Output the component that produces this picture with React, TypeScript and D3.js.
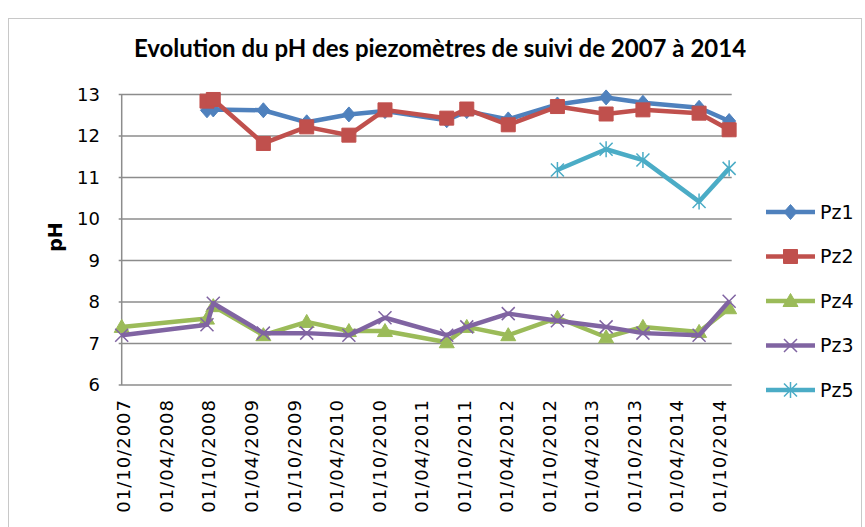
import React from "react";
import * as d3 from "d3";

// sampling dates (dd/mm/yyyy as in the sheet)
const dates = [
  "01/10/2007", "01/10/2008", "28/10/2008", "31/05/2009", "03/12/2009",
  "02/06/2010", "04/11/2010", "27/07/2011", "21/10/2011", "16/04/2012",
  "13/11/2012", "10/06/2013", "15/11/2013", "14/07/2014", "20/11/2014",
];
const axisStart = "01/10/2007";
const axisEnd = "01/12/2014";
const tickStepMonths = 6;

const pz1 = [null, 12.62, 12.64, 12.62, 12.33, 12.52, 12.6, 12.38, 12.6, 12.4, 12.76, 12.93, 12.8, 12.68, 12.36];
const pz2 = [null, 12.84, 12.88, 11.82, 12.22, 12.02, 12.63, 12.43, 12.65, 12.27, 12.71, 12.53, 12.63, 12.55, 12.15];
const pz4 = [7.4, 7.6, 7.9, 7.2, 7.52, 7.3, 7.3, 7.03, 7.4, 7.2, 7.62, 7.15, 7.4, 7.28, 7.85];
const pz3 = [7.2, 7.45, 7.97, 7.25, 7.25, 7.2, 7.62, 7.2, 7.4, 7.72, 7.55, 7.4, 7.25, 7.2, 8.02];
const pz5 = [null, null, null, null, null, null, null, null, null, null, 11.18, 11.68, 11.42, 10.42, 11.22];

const yTicks = [6, 7, 8, 9, 10, 11, 12, 13];

const series = [
  { name: "Pz1", values: pz1, color: "#4F81BD", marker: "diamond" },
  { name: "Pz2", values: pz2, color: "#C0504D", marker: "square" },
  { name: "Pz4", values: pz4, color: "#9BBB59", marker: "triangle" },
  { name: "Pz3", values: pz3, color: "#8064A2", marker: "x" },
  { name: "Pz5", values: pz5, color: "#4BACC6", marker: "star" },
];

const parse = d3.timeParse("%d/%m/%Y");
const fmt = d3.timeFormat("%d/%m/%Y");

const W = 865;
const H = 527;
const left = 121.7;
const right = 731.7;
const top = 94.5;
const bottom = 385;

function markerPath(kind: string) {
  switch (kind) {
    case "diamond":
      return "M0,-7.5L6.5,0L0,7.5L-6.5,0Z";
    case "square":
      return "M-7,-7H7V7H-7Z";
    case "triangle":
      return "M0,-7.5L7.5,5.5L-7.5,5.5Z";
    case "x":
      return "M-6.5,-6.5L6.5,6.5M-6.5,6.5L6.5,-6.5";
    default:
      return "M-6.5,-6.5L6.5,6.5M-6.5,6.5L6.5,-6.5M0,-8L0,8";
  }
}

function Marker({ kind, color, x, y }: { kind: string; color: string; x: number; y: number }) {
  const open = kind === "x" || kind === "star";
  return (
    <path
      d={markerPath(kind)}
      transform={`translate(${x},${y})`}
      fill={open ? "none" : color}
      stroke={color}
      strokeWidth={open ? 1.5 : 1}
    />
  );
}

export default function App() {
  const start = parse(axisStart)!;
  const end = parse(axisEnd)!;
  const x = d3.scaleTime().domain([start, end]).range([left, right]);
  const y = d3.scaleLinear().domain([6, 13]).range([bottom, top]);
  // Excel date axis: major unit of 6 months counted from the axis minimum
  const xTicks: Date[] = [];
  for (let t = start; t <= end; t = d3.timeMonth.offset(t, tickStepMonths)) xTicks.push(t);

  const line = d3
    .line<[Date, number | null]>()
    .defined((d) => d[1] != null)
    .x((d) => x(d[0]))
    .y((d) => y(d[1] as number));

  const legendY = (i: number) => 212 + i * 44.5;

  return (
    <svg
      width={W}
      height={H}
      style={{ position: "absolute", left: 0, top: 0, background: "#fff" }}
    >
      <rect x={8.5} y={18.5} width={853} height={520} fill="#fff" stroke="#c8c8c8" />
      <text
        x={440}
        y={57}
        textAnchor="middle"
        fontFamily="Lato, 'Open Sans', sans-serif"
        fontWeight="bold"
        fontSize={24}
        fill="#000"
      >
        Evolution du pH des piezomètres de suivi de 2007 à 2014
      </text>

      {/* grid + y axis */}
      {yTicks.map((t) => (
        <g key={t}>
          <line x1={left - 3} x2={right} y1={y(t)} y2={y(t)} stroke="#8c8c8c" strokeWidth={1.5} />
          <text
            x={100}
            y={y(t)}
            dy="0.36em"
            textAnchor="end"
            fontFamily="'DejaVu Sans', sans-serif"
            fontSize={18}
            fill="#000"
          >
            {t}
          </text>
        </g>
      ))}
      <line x1={left} x2={left} y1={top} y2={bottom} stroke="#8c8c8c" strokeWidth={1.5} />
      <text
        transform={`translate(55,237) rotate(-90)`}
        textAnchor="middle"
        dy="0.36em"
        fontFamily="'DejaVu Sans', sans-serif"
        fontWeight="bold"
        fontSize={19}
      >
        pH
      </text>

      {/* x axis labels */}
      {xTicks.map((t) => (
        <text
          key={+t}
          transform={`translate(${x(t) + 2},399) rotate(-90)`}
          textAnchor="end"
          dy="0.36em"
          fontFamily="'DejaVu Sans', sans-serif"
          fontSize={18}
          letterSpacing={1}
          fill="#000"
        >
          {fmt(t)}
        </text>
      ))}

      {/* series */}
      {series.map((s) => {
        const pts: [Date, number | null][] = dates.map((d, i) => [parse(d)!, s.values[i]]);
        return (
          <g key={s.name}>
            <path d={line(pts) || ""} fill="none" stroke={s.color} strokeWidth={4.5} strokeLinejoin="round" />
            {pts
              .filter((p) => p[1] != null)
              .map((p, i) => (
                <Marker key={i} kind={s.marker} color={s.color} x={x(p[0])} y={y(p[1] as number)} />
              ))}
          </g>
        );
      })}

      {/* legend */}
      {series.map((s, i) => (
        <g key={s.name}>
          <line x1={766} x2={815} y1={legendY(i)} y2={legendY(i)} stroke={s.color} strokeWidth={4.5} />
          <Marker kind={s.marker} color={s.color} x={790.5} y={legendY(i)} />
          <text
            x={820}
            y={legendY(i)}
            dy="0.36em"
            fontFamily="'DejaVu Sans', sans-serif"
            fontSize={19}
            fill="#000"
          >
            {s.name}
          </text>
        </g>
      ))}
    </svg>
  );
}
